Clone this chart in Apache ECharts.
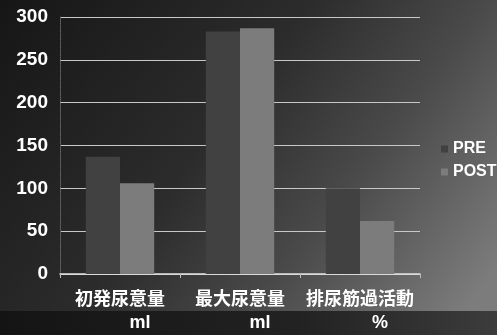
<!DOCTYPE html>
<html><head><meta charset="utf-8">
<script src="https://cdn.jsdelivr.net/npm/echarts@6/dist/echarts.min.js"></script>
<style>html,body{margin:0;padding:0;background:#333}#c{width:497px;height:335px}</style>
</head><body><div id="c"></div>
<script>
const categories = ['初発尿意量', '最大尿意量', '排尿筋過活動'];
const units = ['ml', 'ml', '%'];
const seriesNames = ['PRE', 'POST'];
const preValues = [137, 283, 100];
const postValues = [106, 287, 62];
const yTicks = [0, 50, 100, 150, 200, 250, 300];

const chart = echarts.init(document.getElementById('c'), null, {renderer: 'canvas'});
const font = "'Liberation Sans Narrow','Liberation Sans',Arial,sans-serif";
const cjk = "'Noto Sans CJK JP','Liberation Sans',sans-serif";
chart.setOption({
  animation: false,
  backgroundColor: {
    type: 'linear', x: 0, y: 0, x2: 0.9, y2: 1,
    colorStops: [{offset: 0, color: '#161616'}, {offset: 0.45, color: '#2c2c2c'}, {offset: 0.7, color: '#4a4a4a'}, {offset: 1, color: '#7c7c7c'}]
  },
  graphic: [{
    type: 'rect', left: 0, top: 311, z: -1,
    shape: {width: 497, height: 24},
    style: {fill: {type: 'linear', x: 0, y: 0, x2: 1, y2: 0,
      colorStops: [{offset: 0, color: '#141414'}, {offset: 0.6, color: '#222'}, {offset: 1, color: '#3c3c3c'}]}}
  }],
  grid: {left: 60, right: 77, top: 17, bottom: 61},
  legend: {
    orient: 'vertical', left: 436, top: 136, itemWidth: 7, itemHeight: 7, itemGap: 7,
    icon: 'rect',
    textStyle: {color: '#fff', fontSize: 16, fontWeight: 'bold', fontFamily: font},
    data: seriesNames
  },
  xAxis: {
    type: 'category', data: categories.map((c, i) => c + '\n' + units[i]),
    axisLine: {lineStyle: {color: '#e0e0e0', width: 1.5}},
    axisTick: {show: true, length: 4, lineStyle: {color: '#bbb'}},
    axisLabel: {
      margin: 12, interval: 0,
      formatter: (v) => { const p = v.split('\n'); return '{a|' + p[0] + '}\n{b|' + p[1] + '}'; },
      rich: {
        a: {color: '#fff', fontSize: 18, fontWeight: 'bold', fontFamily: cjk, lineHeight: 25},
        b: {color: '#fff', fontSize: 18, fontWeight: 'bold', fontFamily: font, lineHeight: 25, padding: [0, 0, 0, 40]}
      }
    }
  },
  yAxis: {
    type: 'value', min: yTicks[0], max: yTicks[yTicks.length - 1], interval: 50,
    axisLine: {show: true, lineStyle: {color: '#666', type: 'dotted'}},
    axisTick: {show: false},
    axisLabel: {color: '#fff', fontSize: 19, fontWeight: 'bold', fontFamily: font, margin: 12},
    splitLine: {lineStyle: {color: '#c8c8c8', width: 1}}
  },
  series: [
    {name: seriesNames[0], type: 'bar', data: preValues, barGap: '0%', barCategoryGap: '43%',
     itemStyle: {color: '#414141'}},
    {name: seriesNames[1], type: 'bar', data: postValues,
     itemStyle: {color: '#7c7c7c'}}
  ]
});
</script></body></html>
